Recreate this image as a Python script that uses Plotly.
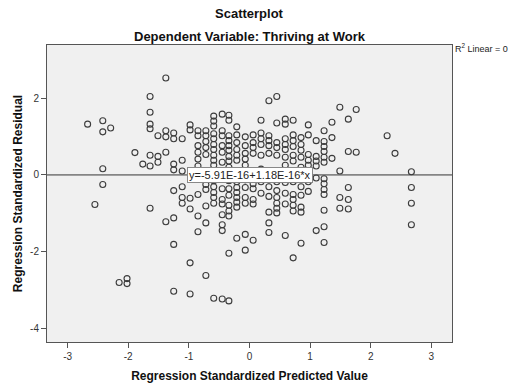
import plotly.graph_objects as go

# Standardized predicted values (discrete columns) and residuals observed at each
col_pred = [-2.67, -2.55, -2.42, -2.29, -2.15, -2.02, -1.89, -1.76, -1.64, -1.51,
            -1.38, -1.25, -1.11, -0.98, -0.85, -0.72, -0.59, -0.45, -0.34, -0.21,
            -0.07, 0.06, 0.19, 0.32, 0.45, 0.59, 0.72, 0.85, 0.97, 1.10,
            1.23, 1.36, 1.49, 1.63, 1.76, 2.27, 2.40, 2.67]
col_resid = [
    [1.32],
    [-0.77],
    [1.41, 1.12, 0.16, -0.25],
    [1.22],
    [-2.80],
    [-2.70, -2.83],
    [0.58],
    [0.28],
    [2.04, 1.63, 1.32, 1.20, 0.51, 0.23, -0.87],
    [1.02, 0.48, 0.33],
    [2.52, 1.15, 0.99, 0.59, -1.22],
    [1.09, 0.94, 0.28, 0.13, -0.41, -1.12, -1.81, -3.03],
    [0.94, 0.38, 0.10, -0.31, -0.59, -0.74],
    [1.30, 1.17, -0.61, -0.89, -2.29, -3.10],
    [1.15, 1.02, 0.76, 0.59, 0.41, 0.23, -0.51, -1.07, -1.48],
    [1.15, 1.02, 0.87, 0.71, 0.53, -0.25, -0.38, -0.81, -1.25, -2.62],
    [1.53, 1.40, 1.27, 1.07, 0.94, 0.79, 0.66, 0.51, 0.38, 0.25, -0.15, -0.31, -0.46, -0.59, -0.74, -3.21],
    [1.58, 1.15, 1.02, 0.76, 0.59, 0.33, -0.36, -0.64, -0.76, -1.04, -1.30, -1.45, -3.23],
    [1.55, 1.42, 1.02, 0.89, 0.76, 0.64, 0.48, 0.36, 0.20, -0.15, -0.36, -0.53, -0.79, -0.94, -1.07, -2.04, -3.28],
    [1.25, 1.04, 0.84, 0.66, 0.51, 0.38, -0.18, -0.33, -0.46, -0.59, -0.71, -0.84, -1.65],
    [0.99, 0.76, 0.56, 0.41, 0.25, -0.13, -0.33, -0.59, -0.74, -1.55, -1.96],
    [1.04, 0.84, 0.71, 0.56, -0.23, -0.36, -0.64, -0.76, -1.70],
    [1.42, 1.09, 0.94, 0.79, 0.51, 0.15, -0.18, -0.48],
    [1.93, 1.02, 0.89, 0.76, 0.56, -0.13, -0.31, -0.56, -0.97, -1.25, -1.50],
    [2.04, 1.35, 0.84, 0.71, 0.51, -0.18, -0.41, -0.59, -0.74, -0.87, -0.99],
    [1.45, 1.32, 0.94, 0.79, 0.66, 0.46, 0.25, -0.20, -0.48, -0.76, -1.58],
    [1.42, 1.04, 0.89, 0.74, 0.51, 0.36, -0.18, -0.51, -0.64, -0.79, -0.94, -2.16],
    [0.97, 0.79, 0.64, 0.46, 0.20, -0.31, -0.53, -0.84, -0.97, -1.78],
    [1.30, 1.04, 0.53, 0.38, 0.25, -0.03, -0.18, -0.43],
    [0.89, 0.48, 0.36, 0.23, -0.08, -1.45],
    [1.15, 0.87, 0.74, 0.61, 0.46, 0.33, -0.10, -0.23, -0.38, -0.51, -0.92, -1.35, -1.76],
    [1.37, 0.97, 0.43],
    [1.76, 0.10, -0.59, -0.87],
    [1.45, 0.61, -0.33, -0.64, -0.89],
    [1.70, 0.59],
    [1.02],
    [0.56],
    [0.08, -0.33, -0.74, -1.30],
]
fit_intercept = -5.91e-16
fit_slope = 1.18e-16
x_range = [-3.34, 3.34]
y_range = [-4.35, 3.38]
x_ticks = [-3, -2, -1, 0, 1, 2, 3]
x_tick_labels = ["-3", "-2", "-1", "0", "1", "2", "3"]
y_ticks = [-4, -2, 0, 2]
y_tick_labels = ["-4", "-2", "0", "2"]

pred, resid = [], []
for xv, ys in zip(col_pred, col_resid):
    for yv in ys:
        pred.append(xv)
        resid.append(yv)

FONT = "Liberation Sans, Arial, sans-serif"

fig = go.Figure()
fit_y = [fit_intercept + fit_slope * xv for xv in x_range]
fig.add_trace(go.Scatter(x=x_range, y=fit_y, mode="lines",
                         line=dict(color="#858585", width=1.6),
                         hoverinfo="skip", showlegend=False))
fig.add_trace(go.Scatter(x=pred, y=resid, mode="markers",
                         marker=dict(symbol="circle-open", size=6,
                                     color="#3c3c3c", line=dict(width=1.1)),
                         showlegend=False))

annotations = [
    dict(x=0, y=0, xref="x", yref="y",
         text="y=-5.91E-16+1.18E-16*x", showarrow=False,
         font=dict(family=FONT, size=11, color="#222"),
         bgcolor="white", bordercolor="#888", borderwidth=1, borderpad=1),
    dict(x=0.5, y=1, xref="paper", yref="paper", yshift=32,
         text="<b>Scatterplot</b>", showarrow=False, yanchor="middle",
         font=dict(family=FONT, size=13, color="#111")),
    dict(x=0.5, y=1, xref="paper", yref="paper", yshift=9,
         text="<b>Dependent Variable: Thriving at Work</b>", showarrow=False,
         yanchor="middle", font=dict(family=FONT, size=13, color="#111")),
    dict(x=1, y=1, xref="paper", yref="paper", xanchor="left",
         yanchor="middle", yshift=-3, xshift=1,
         text="R<sup>2</sup> Linear = 0", showarrow=False,
         font=dict(family=FONT, size=9, color="#222")),
]

fig.update_layout(
    width=508, height=392,
    margin=dict(l=47, r=56, t=45, b=43),
    paper_bgcolor="white", plot_bgcolor="#f0f0f0",
    font=dict(family=FONT, size=10, color="#333"),
    annotations=annotations,
    xaxis=dict(range=x_range, tickvals=x_ticks, ticktext=x_tick_labels,
               showgrid=False, zeroline=False,
               showline=True, linecolor="#555", linewidth=1, mirror=True,
               ticks="outside", ticklen=5, tickcolor="#555",
               tickfont=dict(size=10, color="#333"),
               title=dict(text="<b>Regression Standardized Predicted Value</b>",
                          font=dict(size=12, color="#111"), standoff=10)),
    yaxis=dict(range=y_range, tickvals=y_ticks, ticktext=y_tick_labels,
               showgrid=False, zeroline=False,
               showline=True, linecolor="#555", linewidth=1, mirror=True,
               ticks="outside", ticklen=5, tickcolor="#555",
               tickfont=dict(size=10, color="#333"),
               title=dict(text="<b>Regression Standardized Residual</b>",
                          font=dict(size=12, color="#111"), standoff=4)),
)

fig.write_html("out.html")
